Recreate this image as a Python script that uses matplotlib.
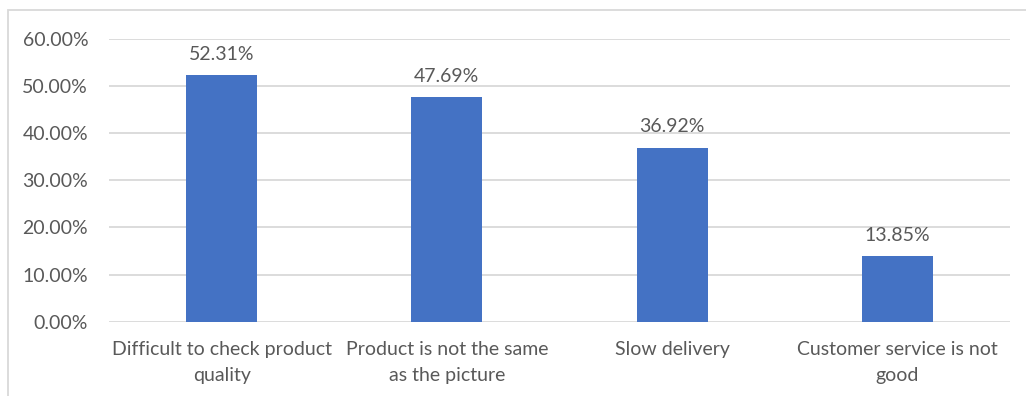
import matplotlib
matplotlib.use("Agg")
import matplotlib.pyplot as plt
from matplotlib.patches import Rectangle
from matplotlib.ticker import FuncFormatter

categories = [
    "Difficult to check product\nquality",
    "Product is not the same\nas the picture",
    "Slow delivery",
    "Customer service is not\ngood",
]
values = [52.31, 47.69, 36.92, 13.85]
yticks = [0, 10, 20, 30, 40, 50, 60]

BAR = "#4472C4"
TEXT = "#595959"
GRID = "#D9D9D9"
FONT = ["Lato", "DejaVu Sans"]
FS = 14

plt.rcParams["font.family"] = FONT

fig = plt.figure(figsize=(10.26, 3.96), dpi=100)
W, H = 1026, 396
ax = fig.add_axes([109 / W, 1 - 321.7 / H, (1010 - 109) / W, (321.7 - 39) / H])

x = list(range(len(categories)))
bars = ax.bar(x, values, width=0.315, color=BAR, zorder=3)
ax.set_xlim(-0.5, len(categories) - 0.5)
ax.set_ylim(0, 60)
ax.set_yticks(yticks)
ax.yaxis.set_major_formatter(FuncFormatter(lambda v, _: f"{v:.2f}%"))
ax.set_xticks(x)
ax.set_xticklabels(categories, fontsize=FS, color=TEXT, linespacing=1.65)
ax.tick_params(axis="y", labelsize=FS, labelcolor=TEXT, length=0, pad=15)
ax.tick_params(axis="x", length=0, pad=14)
ax.grid(axis="y", color=GRID, linewidth=1.3, zorder=0)
for s in ax.spines.values():
    s.set_visible(False)

for b, v in zip(bars, values):
    ax.annotate(f"{v:.2f}%", (b.get_x() + b.get_width() / 2, v),
                xytext=(0, 9), textcoords="offset points",
                ha="center", va="bottom", fontsize=FS, color=TEXT)

# chart-area border
fig.patches.append(Rectangle((8 / W, -0.1), 1.2, 1 - 9.5 / H + 0.1,
                             transform=fig.transFigure, fill=False,
                             edgecolor=GRID, linewidth=1.3))

fig.savefig("out.png", dpi=100)
